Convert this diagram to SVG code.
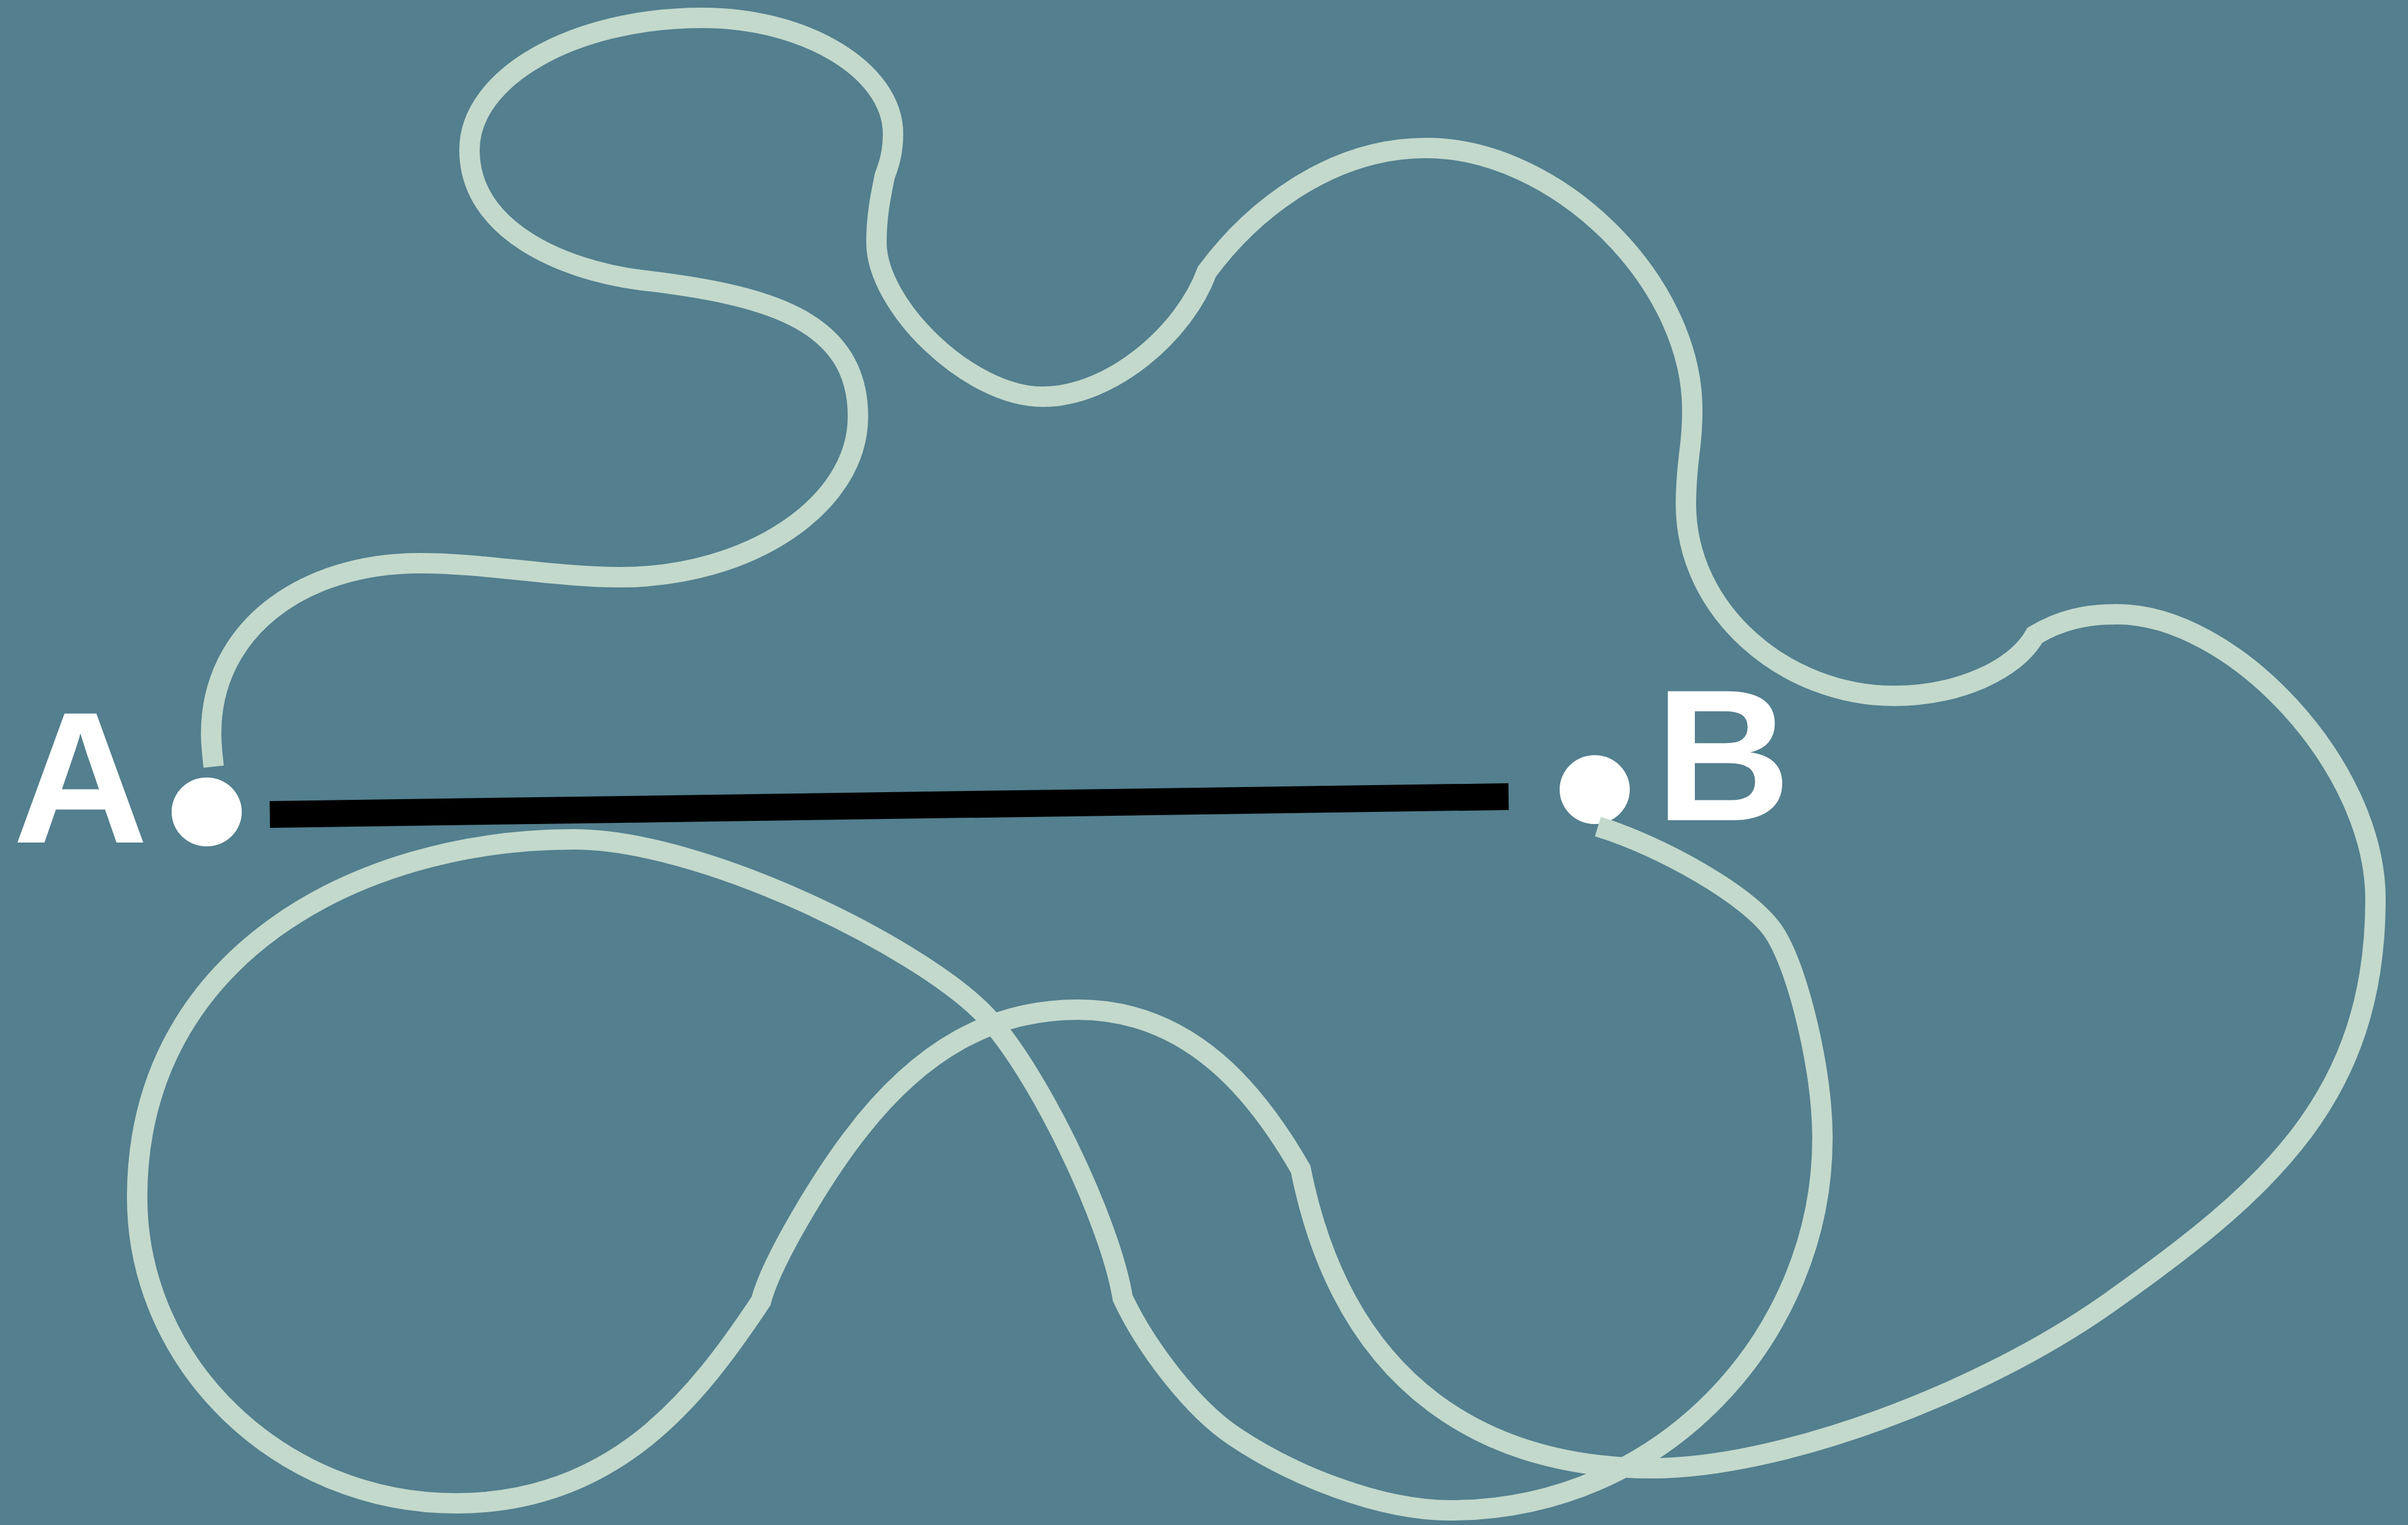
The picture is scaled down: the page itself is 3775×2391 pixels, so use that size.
<svg xmlns="http://www.w3.org/2000/svg" width="3775" height="2391" viewBox="0 0 3775 2391">
<style>
.bg{fill:#537f8e}
.wave{fill:none;stroke:#c3d9cc;stroke-width:32;stroke-linejoin:miter;stroke-linecap:butt}
.straight{stroke:#000;stroke-width:42;stroke-linecap:butt}
.dot{fill:#fff}
.lbl{fill:#fff;font-family:"Liberation Sans",Arial,sans-serif;font-weight:700;font-size:294px}
</style>
<rect class="bg" x="0" y="0" width="3775" height="2391"/>
<g id="node-A">
<ellipse class="dot" cx="324" cy="1273" rx="55" ry="54"/>
<text class="lbl" x="20" y="1321">A</text>
</g>
<g id="node-B">
<ellipse class="dot" cx="2500" cy="1238" rx="55" ry="54"/>
<text class="lbl" x="2595" y="1286">B</text>
</g>
<g id="connectors">
<line class="straight" x1="423" y1="1277" x2="2365" y2="1249"/>
<path class="wave" d="M335,1202 C333,1185 331,1165 331,1150 C331,990 470,883 659,883 C760,883 870,905 972,905 C1175,905 1345,792 1345,653 C1345,500 1200,462 1004,439 C880,423 736,360 736,235 C736,121 900,28 1101,28 C1264,28 1400,111 1400,210 C1400,240 1393,260 1387,276 C1380,310 1374,340 1374,380 C1374,480 1520,622 1634,622 C1744,622 1858,520 1892,426 C1963,330 2086,232 2236,232 C2440,232 2653,440 2653,643 C2653,670 2651,692 2648,714 C2645,740 2643,765 2643,790 C2643,960 2800,1091 2969,1091 C3070,1091 3160,1050 3190,996 C3230,972 3270,963 3319,963 C3500,963 3724,1200 3724,1410 C3724,1720 3555,1866 3310,2040 C3105,2186 2790,2302 2590,2302 C2340,2302 2109,2183 2039,1833 C1974,1720 1870,1583 1690,1583 C1560,1583 1444,1641 1336,1785 C1290,1846 1210,1975 1193,2040 C1094,2189 965,2357 715,2357 C440,2357 215,2140 215,1877 C215,1500 560,1316 900,1316 C1100,1316 1436,1482 1541,1588 C1625,1673 1741,1916 1760,2035 C1796,2112 1869,2208 1935,2252 C2026,2313 2163,2368 2273,2368 C2610,2368 2857,2090 2857,1785 C2857,1680 2820,1522 2782,1463 C2744,1404 2601,1325 2505,1296"/>
</g>
</svg>
